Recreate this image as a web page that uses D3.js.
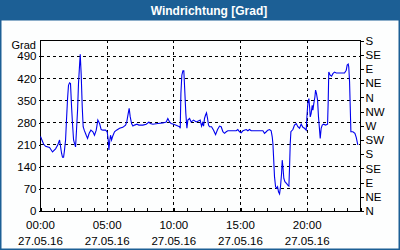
<!DOCTYPE html>
<html>
<head>
<meta charset="utf-8">
<script src="https://d3js.org/d3.v7.min.js"></script>
<style>
  html, body { margin: 0; padding: 0; background: #fff; }
  svg { display: block; font-family: "Liberation Sans", Arial, sans-serif; }
  .tick text { font-size: 11.5px; fill: #000; }
</style>
</head>
<body>
<svg id="chart" width="400" height="250"></svg>
<script>
// time of day in hours, wind direction in degrees
const hours = [
  0.00, 0.23, 0.38, 0.68, 0.90, 1.13, 1.28, 1.43, 1.50, 1.58, 1.65, 1.73, 1.80, 1.88, 1.95,
  2.03, 2.10, 2.18, 2.25, 2.33, 2.40, 2.48, 2.55, 2.63, 2.70, 2.78, 2.85, 2.93, 2.98, 3.05,
  3.13, 3.20, 3.28, 3.43, 3.53, 3.65, 3.78, 3.93, 4.05, 4.18, 4.30, 4.43, 4.55, 4.68, 4.88,
  5.00, 5.08, 5.13, 5.20, 5.25, 5.33, 5.40, 5.55, 5.70, 5.93, 6.17, 6.38, 6.47, 6.58, 6.65,
  6.73, 6.83, 6.93, 7.05, 7.23, 7.38, 7.68, 7.93, 8.13, 8.23, 8.43, 8.80, 9.18, 9.43, 9.55,
  9.68, 9.80, 9.98, 10.13, 10.30, 10.43, 10.48, 10.53, 10.60, 10.68, 10.75, 10.83, 10.90, 10.98,
  11.05, 11.18, 11.30, 11.48, 11.68, 11.88, 11.98, 12.02, 12.08, 12.15, 12.23, 12.30, 12.38,
  12.45, 12.53, 12.60, 12.68, 12.83, 12.98, 13.13, 13.28, 13.43, 13.55, 13.68, 13.80, 13.93,
  14.05, 14.68, 14.80, 14.93, 15.05, 15.18, 15.43, 15.55, 15.68, 15.80, 16.68, 16.80, 16.93,
  17.05, 17.18, 17.30, 17.38, 17.43, 17.48, 17.55, 17.63, 17.70, 17.78, 17.85, 17.93, 18.00,
  18.08, 18.13, 18.18, 18.25, 18.33, 18.43, 18.55, 18.63, 18.68, 18.73, 18.78, 18.93, 19.05,
  19.18, 19.30, 19.43, 19.55, 19.68, 19.80, 19.93, 19.98, 20.05, 20.13, 20.18, 20.23, 20.30,
  20.38, 20.43, 20.50, 20.58, 20.63, 20.70, 20.78, 20.85, 20.93, 20.98, 21.05, 21.13, 21.23,
  21.38, 21.53, 21.58, 21.62, 21.73, 21.83, 21.93, 22.05, 22.18, 22.80, 22.93, 23.00, 23.08,
  23.12, 23.18, 23.23, 23.28, 23.43, 23.58, 23.68, 23.80
];
const degrees = [
  236, 212, 205, 201, 187, 197, 208, 225, 205, 183, 170, 170, 193, 225, 288,
  356, 398, 406, 404, 330, 277, 225, 214, 203, 256, 319, 404, 462, 496, 435,
  330, 267, 256, 240, 230, 246, 256, 251, 240, 256, 288, 277, 258, 256, 256,
  251, 225, 193, 225, 240, 225, 235, 251, 256, 262, 265, 272, 282, 309, 325,
  298, 277, 269, 272, 275, 272, 272, 275, 282, 277, 275, 277, 279, 282, 293,
  282, 277, 275, 272, 269, 267, 262, 372, 430, 444, 444, 372, 309, 262,
  288, 293, 282, 288, 282, 286, 288, 279, 269, 279, 269, 293, 304,
  311, 293, 272, 267, 267, 256, 242, 258, 269, 267, 251, 246, 251,
  254, 254, 258, 251, 248, 254, 258, 254, 258, 254, 254, 246, 251,
  256, 258, 254, 235, 214, 172, 109, 77, 72, 77, 61, 54, 77,
  119, 161, 140, 103, 93, 88, 82, 79, 140, 214, 251, 258, 272,
  277, 267, 262, 275, 265, 262, 256, 298, 341, 356, 330, 298, 309,
  335, 319, 341, 361, 383, 372, 351, 298, 256, 230, 262, 272, 275,
  272, 275, 351, 440, 430, 427, 435, 440, 437, 437, 446, 462, 465,
  456, 409, 330, 251, 251, 246, 233, 209
];

const yTicks = [0, 70, 140, 210, 280, 350, 420, 490];
const dirTicks = [0, 45, 90, 135, 180, 225, 270, 315, 360, 405, 450, 495, 540];
const dirLabels = ["N", "NE", "E", "SE", "S", "SW", "W", "NW", "N", "NE", "E", "SE", "S"];
const xTicks = [0, 5, 10, 15, 20];
const xTimeLabels = ["00:00", "05:00", "10:00", "15:00", "20:00"];
const dateLabel = "27.05.16";
const title = "Windrichtung [Grad]";
const unit = "Grad";

const svg = d3.select("#chart");
const W = 400, H = 250;
const margin = { left: 40.5, right: 39.5, top: 40.5, bottom: 39 };

// frame + title bar
svg.append("rect")
  .attr("x", 0.75).attr("y", 0.75)
  .attr("width", W - 1.5).attr("height", H - 1.5)
  .attr("fill", "#fdfefe")
  .attr("stroke", "#1c5f95")
  .attr("stroke-width", 1.5);

svg.append("rect")
  .attr("x", 0).attr("y", 0)
  .attr("width", W).attr("height", 20.5)
  .attr("fill", "#1c5f95");

svg.append("text")
  .attr("x", W / 2 + 9).attr("y", 14.5)
  .attr("text-anchor", "middle")
  .attr("fill", "#fff")
  .attr("font-weight", "bold")
  .attr("font-size", "12px")
  .text(title);

const x = d3.scaleLinear().domain([0, 24]).range([margin.left, W - margin.right]);
const y = d3.scaleLinear().domain([0, 540]).range([H - margin.bottom, margin.top]);

// dashed grid
const grid = svg.append("g")
  .attr("stroke", "#000")
  .attr("stroke-dasharray", "3,3")
  .attr("shape-rendering", "crispEdges");

grid.selectAll(".hgrid")
  .data(yTicks.filter(d => d > 0))
  .enter().append("line")
  .attr("x1", x(0)).attr("x2", x(24))
  .attr("y1", d => y(d)).attr("y2", d => y(d));

grid.selectAll(".vgrid")
  .data(xTicks.filter(d => d > 0))
  .enter().append("line")
  .attr("y1", y(0)).attr("y2", y(540))
  .attr("x1", d => x(d)).attr("x2", d => x(d));

// plot frame
svg.append("rect")
  .attr("x", x(0)).attr("y", y(540))
  .attr("width", x(24) - x(0)).attr("height", y(0) - y(540))
  .attr("fill", "none")
  .attr("stroke", "#000")
  .attr("shape-rendering", "crispEdges");

// data line
const data = hours.map((h, i) => ({ h, v: degrees[i] }));
svg.append("path")
  .datum(data)
  .attr("fill", "none")
  .attr("stroke", "#0000ee")
  .attr("stroke-width", 1.1)
  .attr("d", d3.line().x(d => x(d.h)).y(d => y(d.v)));

// left axis
const leftAxis = svg.append("g")
  .attr("transform", `translate(${x(0)},0)`)
  .call(d3.axisLeft(y).tickValues(yTicks).tickSize(2).tickPadding(2));
leftAxis.select(".domain").remove();
leftAxis.selectAll(".tick line").attr("shape-rendering", "crispEdges");

svg.append("text")
  .attr("x", 36).attr("y", y(540) + 8.5)
  .attr("text-anchor", "end")
  .attr("font-size", "11px")
  .text(unit);

// right axis with compass directions
const rightAxis = svg.append("g")
  .attr("transform", `translate(${x(24)},0)`)
  .call(d3.axisRight(y).tickValues(dirTicks).tickSize(3).tickPadding(2)
    .tickFormat((d, i) => dirLabels[i]));
rightAxis.select(".domain").remove();
rightAxis.selectAll(".tick line").attr("shape-rendering", "crispEdges");

// bottom axis: hourly minor ticks inside, labels below
const bottomAxis = svg.append("g")
  .attr("transform", `translate(0,${y(0)})`)
  .call(d3.axisBottom(x).ticks(24).tickSize(-3).tickFormat(""));
bottomAxis.select(".domain").remove();
bottomAxis.selectAll(".tick line").attr("shape-rendering", "crispEdges");

const xLab = svg.append("g").attr("font-size", "11.5px").attr("text-anchor", "middle");
xLab.selectAll(".t1")
  .data(xTicks)
  .enter().append("text")
  .attr("x", d => x(d))
  .attr("y", y(0) + 18)
  .text((d, i) => xTimeLabels[i]);
xLab.selectAll(".t2")
  .data(xTicks)
  .enter().append("text")
  .attr("x", d => x(d))
  .attr("y", y(0) + 34)
  .text(dateLabel);
</script>
</body>
</html>
